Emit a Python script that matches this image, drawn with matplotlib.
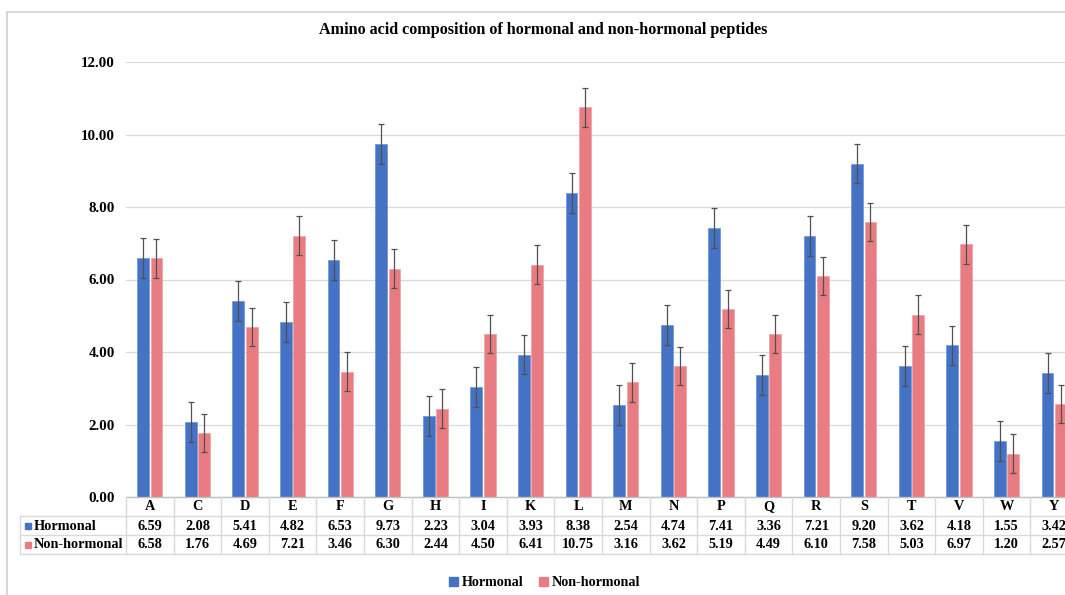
import numpy as np
import matplotlib
matplotlib.use("Agg")
import matplotlib.pyplot as plt
from matplotlib.patches import Rectangle, Patch
from matplotlib.lines import Line2D
from matplotlib.transforms import blended_transform_factory

categories = ["A", "C", "D", "E", "F", "G", "H", "I", "K", "L",
              "M", "N", "P", "Q", "R", "S", "T", "V", "W", "Y"]
hormonal = [6.59, 2.08, 5.41, 4.82, 6.53, 9.73, 2.23, 3.04, 3.93, 8.38,
            2.54, 4.74, 7.41, 3.36, 7.21, 9.20, 3.62, 4.18, 1.55, 3.42]
non_hormonal = [6.58, 1.76, 4.69, 7.21, 3.46, 6.30, 2.44, 4.50, 6.41, 10.75,
                3.16, 3.62, 5.19, 4.49, 6.10, 7.58, 5.03, 6.97, 1.20, 2.57]
hormonal_err = [0.55] * 20
non_hormonal_err = [0.53] * 20
series_names = ["Hormonal", "Non-hormonal"]
title = "Amino acid composition of hormonal and non-hormonal peptides"
yticks = [0, 2, 4, 6, 8, 10, 12]

plt.rcParams['font.family'] = ['Liberation Serif', 'DejaVu Serif']
BLUE = "#4472C4"
PINK = "#E97C82"
GRID = "#D9D9D9"

W, H = 1065, 595
fig = plt.figure(figsize=(W / 100, H / 100), dpi=100)

def fx(px):
    return px / W

def fy(py):
    return 1 - py / H

# chart border (extends beyond the cropped image)
fig.patches.append(Rectangle((fx(7), fy(700)), fx(1200), fy(12) - fy(700),
                             transform=fig.transFigure, fill=False,
                             edgecolor="#D0D0D0", linewidth=1.2))

left_px, right_px = 126, 1078
top_px, bot_px = 62, 497
ax = fig.add_axes([fx(left_px), fy(bot_px), (right_px - left_px) / W,
                   (bot_px - top_px) / H])

x = np.arange(len(categories))
bw = 0.25
off = 0.14
ekw = dict(ecolor="#505050", elinewidth=0.9, capsize=2, capthick=0.9)
ax.bar(x - off, hormonal, bw, color=BLUE, edgecolor="#6E92D6", linewidth=0.5,
       yerr=hormonal_err, error_kw=ekw, zorder=3)
ax.bar(x + off, non_hormonal, bw, color=PINK, edgecolor="#F0A0A5", linewidth=0.5,
       yerr=non_hormonal_err, error_kw=ekw, zorder=3)

ax.set_xlim(-0.5, len(categories) - 0.5)
ax.set_ylim(0, 12)
ax.set_yticks(yticks)
ax.set_yticklabels([f"{v:.2f}" for v in yticks], fontsize=10.8, fontweight="bold")
ax.tick_params(axis="y", length=0, pad=8)
ax.set_xticks([])
ax.grid(axis="y", color=GRID, linewidth=0.9, zorder=0)
for s in ax.spines.values():
    s.set_visible(False)

fig.text(fx(543), fy(30), title, ha="center", va="center", fontsize=11.6,
         fontweight="bold")

# data table
tr = blended_transform_factory(ax.transData, fig.transFigure)
rows_px = [497, 516, 535, 554]
lc = GRID
n = len(categories)
fig.add_artist(Line2D([-0.5, n - 0.5], [fy(497)] * 2, transform=tr,
                      color="#BFBFBF", linewidth=1.0, clip_on=False))
for py in rows_px[1:]:
    fig.add_artist(Line2D([fx(20), fx(right_px)], [fy(py)] * 2,
                          transform=fig.transFigure, color=lc, linewidth=1.0))
for i in range(n + 1):
    fig.add_artist(Line2D([i - 0.5, i - 0.5], [fy(497), fy(554)], transform=tr,
                          color=lc, linewidth=1.0))
fig.add_artist(Line2D([fx(20), fx(20)], [fy(516), fy(554)],
                      transform=fig.transFigure, color=lc, linewidth=1.0))

fs = 10.3
for i, c in enumerate(categories):
    fig.text(i, fy(507), c, transform=tr, ha="center", va="center",
             fontsize=fs, fontweight="bold")
    fig.text(i, fy(526), f"{hormonal[i]:.2f}", transform=tr, ha="center",
             va="center", fontsize=fs, fontweight="bold")
    fig.text(i, fy(545), f"{non_hormonal[i]:.2f}", transform=tr, ha="center",
             va="center", fontsize=fs, fontweight="bold")

for py, name, col in [(526, series_names[0], BLUE), (545, series_names[1], PINK)]:
    fig.patches.append(Rectangle((fx(25), fy(py + 3)), fx(6), fy(py - 3) - fy(py + 3),
                                 transform=fig.transFigure, color=col))
    fig.text(fx(34), fy(py), name, ha="left", va="center", fontsize=fs,
             fontweight="bold")

handles = [Patch(color=BLUE, label=series_names[0]),
           Patch(color=PINK, label=series_names[1])]
fig.legend(handles=handles, loc="center", bbox_to_anchor=(fx(545), fy(583)),
           ncol=2, frameon=False, handlelength=0.6, handleheight=0.6,
           handletextpad=0.3, columnspacing=1.1,
           prop={"weight": "bold", "size": 10.2})

fig.savefig("out.png", dpi=100)
